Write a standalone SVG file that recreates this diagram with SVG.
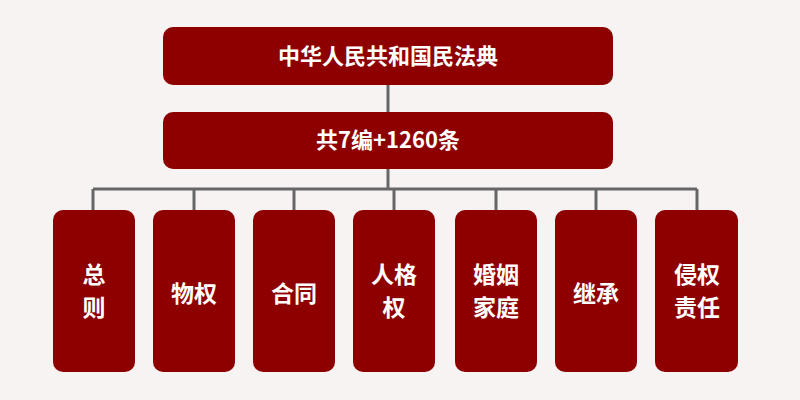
<svg xmlns="http://www.w3.org/2000/svg" width="800" height="400" viewBox="0 0 800 400">
<style>
.b{fill:#8e0000;}
.t{fill:#fff;font-family:"Noto Sans CJK SC",sans-serif;font-weight:bold;text-anchor:middle;}
.l{stroke:#666;stroke-width:3;fill:none;}
</style>
<rect width="800" height="400" fill="#f6f3f2"/>
<g id="connectors">
<path class="l" d="M388 85V112M388 168V189M93 189H697M93 189V210M194 189V210M294 189V210M394 189V210M496 189V210M596 189V210M697 189V210"/>
</g>
<g id="n0"><rect class="b" x="163" y="27" width="450" height="58" rx="10"/><text class="t" x="388" y="64" font-size="22">中华人民共和国民法典</text></g>
<g id="n1"><rect class="b" x="163" y="112" width="450" height="57" rx="10"/><text class="t" x="388" y="148" font-size="22">共7编+1260条</text></g>
<g id="n2"><rect class="b" x="53" y="210" width="82" height="162" rx="10"/><text class="t" x="94" y="283" font-size="23">总</text><text class="t" x="94" y="316" font-size="23">则</text></g>
<g id="n3"><rect class="b" x="153" y="210" width="82" height="162" rx="10"/><text class="t" x="194" y="302" font-size="23">物权</text></g>
<g id="n4"><rect class="b" x="253" y="210" width="82" height="162" rx="10"/><text class="t" x="294" y="302" font-size="23">合同</text></g>
<g id="n5"><rect class="b" x="353" y="210" width="82" height="162" rx="10"/><text class="t" x="394" y="283" font-size="23">人格</text><text class="t" x="394" y="316" font-size="23">权</text></g>
<g id="n6"><rect class="b" x="455" y="210" width="82" height="162" rx="10"/><text class="t" x="496" y="283" font-size="23">婚姻</text><text class="t" x="496" y="316" font-size="23">家庭</text></g>
<g id="n7"><rect class="b" x="555" y="210" width="82" height="162" rx="10"/><text class="t" x="596" y="302" font-size="23">继承</text></g>
<g id="n8"><rect class="b" x="655" y="210" width="83" height="162" rx="10"/><text class="t" x="697" y="283" font-size="23">侵权</text><text class="t" x="697" y="316" font-size="23">责任</text></g>
</svg>
